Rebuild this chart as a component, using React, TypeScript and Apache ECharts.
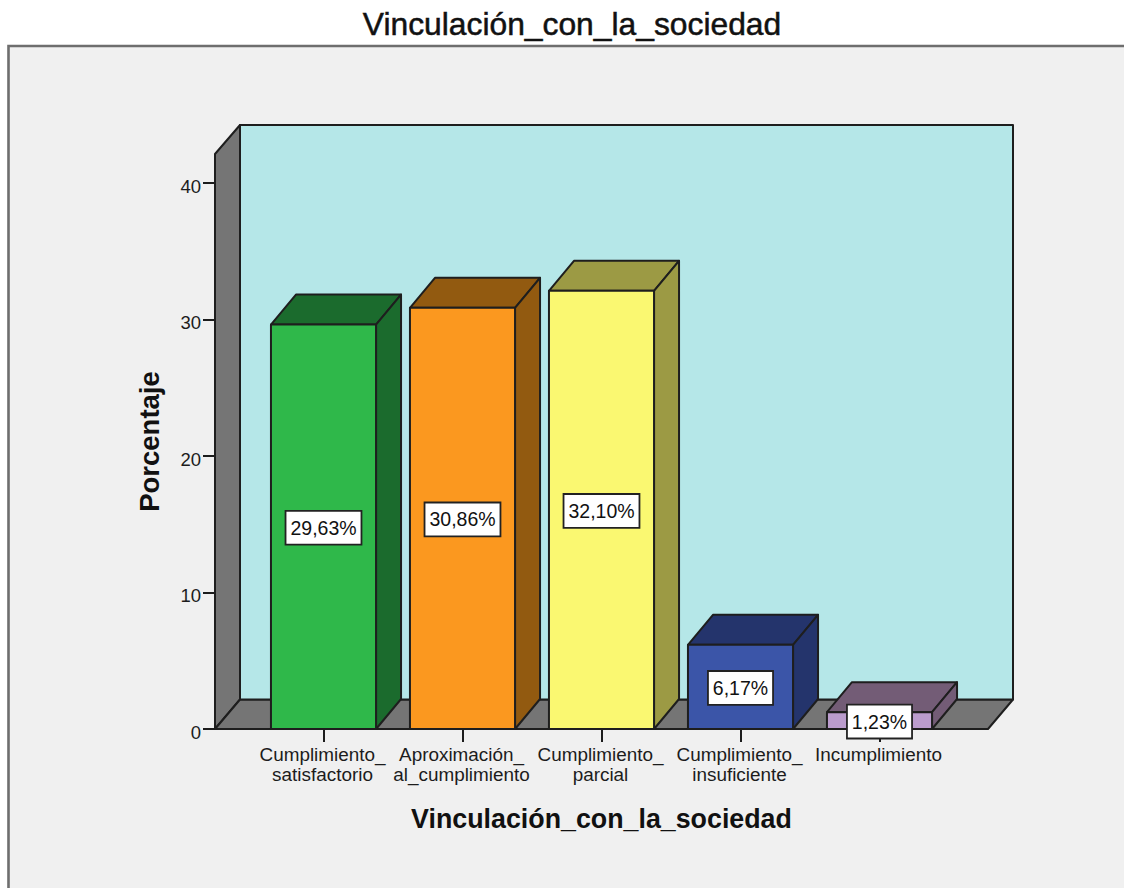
import React, { useEffect, useRef } from "react";
import * as echarts from "echarts";

const titleText = "Vinculación_con_la_sociedad";
const yAxisName = "Porcentaje";
const categories = [
  "Cumplimiento_\nsatisfactorio",
  "Aproximación_\nal_cumplimiento",
  "Cumplimiento_\nparcial",
  "Cumplimiento_\ninsuficiente",
  "Incumplimiento",
];
const percentages = [29.63, 30.86, 32.1, 6.17, 1.23];
const percentLabels = ["29,63%", "30,86%", "32,10%", "6,17%", "1,23%"];
const yTicks = [0, 10, 20, 30, 40];
const frontColors = ["#2fb84a", "#fb981f", "#faf871", "#3b55a8", "#bb9ccd"];
const darkColors = ["#1b6b2d", "#925a10", "#9c9a44", "#24346c", "#735c76"];

const FONT = '"Liberation Sans", Arial, sans-serif';
const INK = "#1c1c1c";
const DX = 25;
const DY = 30;

export default function App() {
  const ref = useRef<HTMLDivElement>(null);
  useEffect(() => {
    document.body.style.margin = "0";
    document.body.style.overflow = "hidden";
    const chart = echarts.init(ref.current!, null, { renderer: "svg" });
    const edge = { stroke: "#1e1e1e", lineWidth: 2, lineJoin: "round" };
    chart.setOption({
      animation: false,
      backgroundColor: "#ffffff",
      title: {
        text: titleText,
        left: 567,
        top: 3,
        textAlign: "center",
        textStyle: {
          fontFamily: FONT,
          fontSize: 31.8,
          fontWeight: "normal",
          color: "#111",
          textBorderColor: "#111",
          textBorderWidth: 0.5,
        },
      },
      graphic: [
        {
          type: "rect",
          z: -10,
          shape: { x: 8.5, y: 46, width: 1130, height: 860 },
          style: { fill: "#f0f0f0", stroke: "#6e6e6e", lineWidth: 2.6 },
        },
        {
          type: "polygon",
          z: -9,
          shape: { points: [[215, 154], [240, 125], [240, 699.5], [215, 729]] },
          style: { fill: "#757575", ...edge },
        },
        {
          type: "polygon",
          z: -9,
          shape: { points: [[215, 729], [240, 699.5], [1013, 699.5], [988, 729]] },
          style: { fill: "#757575", ...edge },
        },
        {
          type: "rect",
          z: -9,
          shape: { x: 240, y: 125, width: 773, height: 574.5 },
          style: { fill: "#b5e7e8", ...edge },
        },
      ],
      grid: { left: 254, top: 154, width: 695, height: 575 },
      xAxis: {
        type: "category",
        data: categories,
        name: titleText,
        nameLocation: "middle",
        nameGap: 76,
        nameTextStyle: { fontFamily: FONT, fontSize: 26.8, fontWeight: "bold", color: "#111" },
        axisLine: { show: false },
        axisTick: { show: true, alignWithLabel: true, length: 13, lineStyle: { color: INK, width: 2 } },
        axisLabel: {
          interval: 0,
          margin: 15,
          fontFamily: FONT,
          fontSize: 18.9,
          lineHeight: 20,
          color: INK,
          padding: [0, 2, 0, 0],
        },
      },
      yAxis: {
        type: "value",
        min: 0,
        max: 42.125,
        offset: 39,
        name: yAxisName,
        nameLocation: "middle",
        nameMoveOverlap: false,
        nameGap: 52,
        nameTextStyle: { fontFamily: FONT, fontSize: 27.5, fontWeight: "bold", color: "#111" },
        splitLine: { show: false },
        axisLine: { show: false },
        axisTick: { show: true, length: 12, customValues: yTicks, lineStyle: { color: INK, width: 2 } },
        axisLabel: {
          customValues: yTicks,
          margin: 14,
          formatter: "{a|{value}}",
          rich: {
            a: { fontFamily: FONT, fontSize: 18.5, color: INK, padding: [6, 0, 0, 0] },
          },
        },
      },
      series: [
        {
          type: "custom",
          clip: false,
          data: percentages.map((v, i) => [i, v]),
          encode: { x: 0, y: 1 },
          renderItem: (_p: any, api: any) => {
            const i = api.value(0);
            const v = api.value(1);
            const [cx, top] = api.coord([i, v]);
            const [, bottom] = api.coord([i, 0]);
            const half = api.size([1, 0])[0] * 0.378;
            const l = cx - half;
            const r = cx + half;
            return {
              type: "group",
              children: [
                {
                  type: "polygon",
                  shape: { points: [[l, top], [l + DX, top - DY], [r + DX, top - DY], [r, top]] },
                  style: { fill: darkColors[i], ...edge },
                },
                {
                  type: "polygon",
                  shape: { points: [[r, top], [r + DX, top - DY], [r + DX, bottom - DY], [r, bottom]] },
                  style: { fill: darkColors[i], ...edge },
                },
                {
                  type: "rect",
                  shape: { x: l, y: top, width: r - l, height: bottom - top },
                  style: { fill: frontColors[i], ...edge },
                },
                {
                  type: "text",
                  z2: 10,
                  x: cx,
                  y: (top + bottom) / 2 + 1,
                  style: {
                    text: percentLabels[i],
                    align: "center",
                    verticalAlign: "middle",
                    fontFamily: FONT,
                    fontSize: 19.5,
                    fill: "#111",
                    backgroundColor: "#ffffff",
                    borderColor: "#222",
                    borderWidth: 1.8,
                    padding: [6, 4],
                  },
                },
              ],
            };
          },
        },
      ],
    });
    return () => chart.dispose();
  }, []);
  return <div ref={ref} style={{ width: 1124, height: 888 }} />;
}
